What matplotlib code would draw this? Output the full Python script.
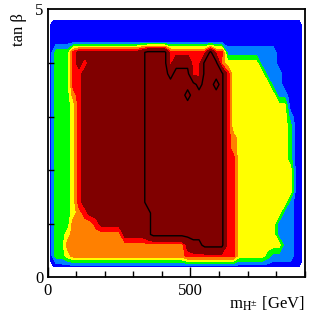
import numpy as np
import matplotlib.pyplot as plt
from matplotlib.ticker import MultipleLocator, FixedLocator

plt.rcParams['font.family'] = ['Liberation Serif', 'DejaVu Serif']
plt.rcParams['mathtext.fontset'] = 'stix'

# ---------- scan grid (bin centres) ----------
m_hpm = np.arange(10, 900, 20)                       # 45 points [GeV]
tan_beta = np.round(np.arange(0.2, 4.81, 0.2), 1)    # 24 points

# level, one string per tan beta row, bottom -> top
# (groups of 10 mass points; 1 blue .. 6 red, 7/8 dark red, 9 inside the line)
z_rows = [
    "0111111111 1111111111 1111111111 1111111111 11110",  # 0.2
    "1334555555 5555555555 5555666666 6664444432 22211",  # 0.4
    "1335555555 5555555555 5555788999 9664444444 42211",  # 0.6
    "1334555555 5557777899 9999999999 9664444444 22211",  # 0.8
    "1333555567 7777777899 9999999999 9664444444 22211",  # 1.0
    "1333456777 7777777899 9999999999 9664444444 42211",  # 1.2
    "1333467777 7777778999 9999999999 9664444444 44211",  # 1.4
    "1333467777 7777778999 9999999999 9664444444 44411",  # 1.6
    "1333467777 7777778999 9999999999 9664444444 44411",  # 1.8
    "1333467777 7777778999 9999999999 9664444444 44411",  # 2.0
    "1333467777 7777778999 9999999999 9664444444 44311",  # 2.2
    "1333467777 7777778999 9999999999 9654444444 44311",  # 2.4
    "1333467777 7777778999 9999999999 9654444444 44311",  # 2.6
    "1333467777 7777778999 9999999999 9644444444 44311",  # 2.8
    "1333467777 7777778999 9999999999 9644444444 44211",  # 3.0
    "1333467777 7777778999 9999999999 9644444444 44111",  # 3.2
    "1333567777 7777778999 9999899999 9644444444 22111",  # 3.4
    "1333667777 7777778999 9999998998 9644444442 21111",  # 3.6
    "1333667777 7777778999 9899966999 9644444422 21111",  # 3.8
    "1333676777 7777778999 9688866999 5444444222 11111",  # 4.0
    "1333677777 7777778999 9666666696 6222222222 11111",  # 4.2
    "1111111111 1111111111 1111111111 1111111111 11111",  # 4.4
    "1111111111 1111111111 1111111111 1111111111 11111",  # 4.6
    "0111111111 1111111111 1111111111 1111111111 11110",  # 4.8
]
z = np.array([[int(c) for c in row.replace(" ", "")] for row in z_rows],
             dtype=float)

levels = [0.5, 1.5, 2.5, 3.5, 4.5, 5.5, 6.5, 10]
colors = ['#0000ff', '#0080ff', '#00ff00', '#ffff00',
          '#ff8000', '#ff0000', '#800000']
limit_level = [8.5]

# ---------- plot ----------
fig = plt.figure(figsize=(3.15, 3.16), dpi=100)
ax = fig.add_axes([0.1514, 0.1225, 0.8159, 0.8475])

ax.contourf(m_hpm, tan_beta, z, levels=levels, colors=colors)
ax.contour(m_hpm, tan_beta, z, levels=limit_level, colors='black',
           linewidths=1.0)

ax.set_xlim(0, 900)
ax.set_ylim(0, 5)

ax.xaxis.set_major_locator(FixedLocator([0, 500]))
ax.xaxis.set_minor_locator(MultipleLocator(100))
ax.yaxis.set_major_locator(FixedLocator([0, 5]))
ax.yaxis.set_minor_locator(MultipleLocator(1))

ax.tick_params(which='both', direction='in', top=False, right=False,
               labelsize=12, width=1.0)
ax.tick_params(axis='x', which='major', length=7, pad=4)
ax.tick_params(axis='x', which='minor', length=4)
ax.tick_params(axis='y', which='major', length=0, pad=3)
ax.tick_params(axis='y', which='minor', length=4)

for s in ax.spines.values():
    s.set_linewidth(1.3)

ax.set_xlabel(r"m$_{\mathrm{H}^{\pm}}$ [GeV]", fontsize=12, loc='right',
              labelpad=-3)
ax.set_ylabel("tan β", fontsize=12, loc='top')
ax.yaxis.set_label_coords(-0.08, 0.985)

fig.savefig("out.png", dpi=100)
